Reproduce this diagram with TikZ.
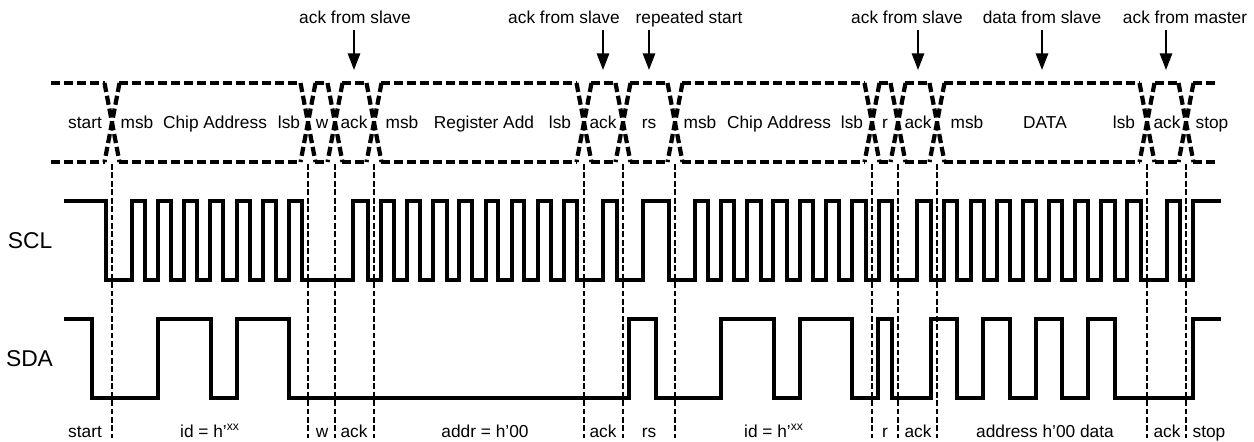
\documentclass[tikz,border=0pt]{standalone}
\usepackage{fontspec}
\setmainfont{Liberation Sans}
\usetikzlibrary{arrows.meta}
\tikzset{
  wire/.style={line width=2.5pt, black, line join=miter},
  bus/.style={line width=2.4pt, black, dash pattern=on 5.2pt off 2.2pt},
  tick/.style={line width=0.8pt, black, dash pattern=on 3.3pt off 1.5pt},
  pointer/.style={line width=1.2pt, black, -{Triangle[width=7pt, length=9.5pt]}},
  toplabel/.style={anchor=base, inner sep=0pt, font=\fontsize{9.85}{12}\selectfont},
  buslabel/.style={toplabel},
  sigabel/.style={anchor=base, inner sep=0pt, font=\fontsize{13}{15}\selectfont}
}
\begin{document}
\begin{tikzpicture}[x=0.02cm, y=-0.02cm]
  \useasboundingbox (0,0) rectangle (1254,441);
  \foreach \x/\t [count=\i] in {355/ack from slave, 564/ack from slave, 689/repeated start,
      907/ack from slave, 1042/data from slave, 1185/ack from master}
    \node[toplabel] (top\i) at (\x,23) {\t};
  \foreach \x [count=\i] in {354,603,649,918,1042,1166}{
    \coordinate (from\i) at (\x,30);
    \coordinate (to\i) at (\x,70);
    \draw[pointer] (from\i) -- (to\i);
  }
  \foreach \a/\b in {51/105,119/301,315/328,342/367,381/577,591/616,630/668,682/865,879/891,905/930,944/1140,1155/1179,1193/1215}{
    \draw[bus] (\a,83) -- (\b,83);
    \draw[bus] (\a,162) -- (\b,162);
  }
  \foreach \x in {112,308,335,374,584,623,675,872,898,937,1147,1186}{
    \draw[bus] (\x-7.5,83) -- (\x+7.5,162);
    \draw[bus] (\x+7.5,83) -- (\x-7.5,162);
  }
  \foreach \x/\t [count=\i] in {85/start,137/msb,215/Chip Address,289/lsb,322/w,354/ack,402/msb,
      484/Register Add,560/lsb,603/ack,649/rs,700/msb,779/Chip Address,852/lsb,885/r,918/ack,
      967/msb,1045/DATA,1124/lsb,1167/ack,1212/stop}
    \node[buslabel] (bus\i) at (\x,128) {\t};
  \foreach \x [count=\i] in {112,308,335,374,584,623,675,872,898,937,1147,1186}{
    \coordinate (tickup\i) at (\x,164);
    \coordinate (tickdn\i) at (\x,438);
    \draw[tick] (tickup\i) -- (tickdn\i);
  }
  \node[sigabel] (scl) at (30,248) {SCL};
  \node[sigabel] (sda) at (29.5,366) {SDA};
  \draw[wire] (64,201) -| (106,280)
    \foreach \r/\f in {132/145,158/171,184/197,210/223,237/250,263/276,289/302,353/368,
        381/394,407/420,433/447,459/472,486/498,512/524,538/551,564/577,603/617,643/669,
        695/708,721/734,747/761,773/787,800/813,826/839,852/866,879/892,917/931,
        944/957,971/984,997/1010,1023/1036,1049/1062,1075/1088,1101/1115,1127/1141,1167/1180}
      { -| (\r,201) -| (\f,280) }
    -| (1193,201) -- (1221,201);
  \draw[wire] (64,319) -| (92,398)
    \foreach \r/\f in {158/211,237/289,629/656,721/774,800/852,878/892,931/957,983/1010,1036/1062,1088/1115}
      { -| (\r,319) -| (\f,398) }
    -| (1193,319) -- (1221,319);
  \foreach \x/\t [count=\i] in {85/start,210/{id = h’\textsuperscript{xx}},322/w,354/ack,485/{addr = h’00},
      603/ack,649/rs,774/{id = h’\textsuperscript{xx}},885/r,918/ack,1045/{address h’00 data},1167/ack,1209/stop}
    \node[buslabel] (low\i) at (\x,437) {\t};
\end{tikzpicture}
\end{document}
